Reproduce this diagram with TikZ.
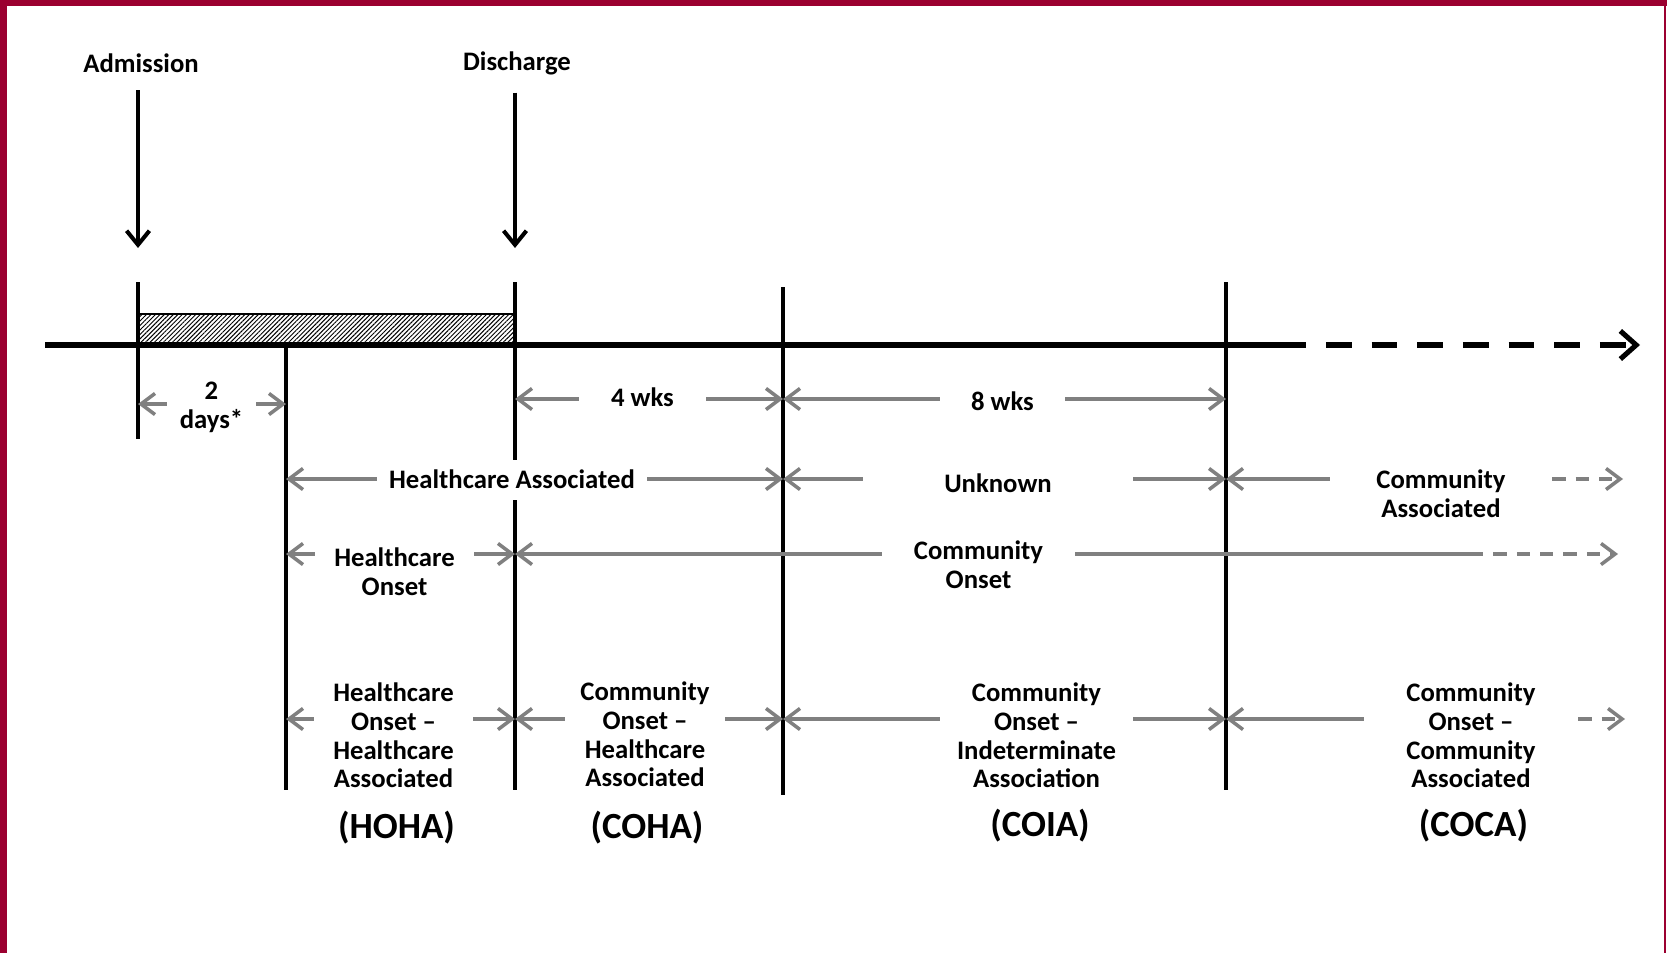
\documentclass[tikz,border=0pt]{standalone}
\usepackage{fontspec}
\setmainfont{Carlito}
\usetikzlibrary{arrows.meta,patterns.meta,positioning}
\definecolor{frame}{RGB}{155,0,48}
\definecolor{tick}{RGB}{128,128,128}

\begin{document}
\begin{tikzpicture}[x=0.02cm,y=-0.02cm,
   lbl/.style={font=\bfseries\fontsize{15.2}{16.3}\selectfont,align=center,inner sep=0pt},
   abbr/.style={font=\bfseries\fontsize{21}{24}\selectfont,inner sep=0pt},
   vline/.style={line width=2.3pt},
   ga/.style={draw=tick,line width=2pt,-{Straight Barb[length=8pt,width=12pt]}},
   gdash/.style={ga,dash pattern=on 7.6pt off 5.7pt},
   ba/.style={line width=2.3pt,-{Straight Barb[length=8pt,width=13pt]}}]
   \useasboundingbox (0,0) rectangle (1667,953);
   \fill[frame] (0,0) rectangle (7,953);
   \fill[frame] (0,0) rectangle (1667,6);
   \fill[frame] (1664,0) rectangle (1666,953);

   \draw[line width=0.8pt,pattern={Lines[angle=45,distance=1.8pt,line width=0.55pt]}] (138,314) rectangle (515,345);
   \draw[line width=2.9pt] (45,345) -- (1306,345);
   \draw[line width=2.9pt,dash pattern=on 14.7pt off 11.3pt,dash phase=14.7pt,
         -{Straight Barb[length=9pt,width=16pt]}] (1306,345) -- (1640,345);

   \draw[vline] (138,282) -- (138,439);
   \draw[vline] (286,345) -- (286,790);
   \draw[vline] (515,282) -- (515,460) (515,500) -- (515,790);
   \draw[vline] (783,287) -- (783,795);
   \draw[vline] (1226,282) -- (1226,790);

   \node[lbl] (adm) at (141,63) {Admission};
   \node[lbl] (dis) at (517,63) {Discharge};
   \coordinate (adm-tip) at (138,248);
   \coordinate (dis-tip) at (515,248);
   \draw[ba,shorten <=10pt] (adm.south -| adm-tip) -- (adm-tip);
   \draw[ba,shorten <=10pt] (dis.south -| dis-tip) -- (dis-tip);

   \coordinate (A-d) at (138,404);
   \coordinate (B-d) at (286,404);
   \coordinate (C-w) at (515,399);
   \coordinate (D-w) at (783,399);
   \coordinate (E-w) at (1226,399);
   \node[lbl,minimum width=1.78cm] (days) at (211.5,407.5) {2\\days*};
   \node[lbl,minimum width=2.54cm] (wk4) at (642.5,397) {4 wks};
   \node[lbl,minimum width=2.5cm] (wk8) at (1002.5,401) {8 wks};
   \draw[ga] (days.west |- A-d) -- (A-d);
   \draw[ga] (days.east |- B-d) -- (B-d);
   \draw[ga] (wk4.west |- C-w) -- (C-w);
   \draw[ga] (wk4.east |- D-w) -- (D-w);
   \draw[ga] (wk8.west |- D-w) -- (D-w);
   \draw[ga] (wk8.east |- E-w) -- (E-w);

   \coordinate (B-h) at (286,479);
   \coordinate (D-h) at (783,479);
   \coordinate (E-h) at (1226,479);
   \coordinate (ca-end) at (1623,479);
   \node[lbl,minimum width=5.4cm] (ha) at (512,479) {Healthcare Associated};
   \node[lbl,minimum width=5.4cm] (unk) at (998,483.7) {Unknown};
   \node[lbl,minimum width=4.44cm] (ca) at (1441,494) {Community\\Associated};
   \draw[ga] (ha.west |- B-h) -- (B-h);
   \draw[ga] (ha.east |- D-h) -- (D-h);
   \draw[ga] (unk.west |- D-h) -- (D-h);
   \draw[ga] (unk.east |- E-h) -- (E-h);
   \draw[ga] (ca.west |- E-h) -- (E-h);
   \draw[gdash] (ca.east |- E-h) -- (ca-end);

   \coordinate (B-o) at (286,554);
   \coordinate (C-o) at (515,554);
   \coordinate (co-dash) at (1470,554);
   \coordinate (co-end) at (1618,554);
   \node[lbl,minimum width=3.18cm] (ho) at (394.5,571.5) {Healthcare\\Onset};
   \node[lbl,minimum width=3.86cm] (co) at (978.5,565) {Community\\Onset};
   \draw[ga] (ho.west |- B-o) -- (B-o);
   \draw[ga] (ho.east |- C-o) -- (C-o);
   \draw[ga] (co.west |- C-o) -- (C-o);
   \draw[draw=tick,line width=2pt] (co.east |- C-o) -- (co-dash);
   \draw[gdash] (co-dash) -- (co-end);

   \coordinate (B-c) at (286,719);
   \coordinate (C-c) at (515,719);
   \coordinate (D-c) at (783,719);
   \coordinate (E-c) at (1226,719);
   \coordinate (coca-end) at (1625,719);
   \node[lbl,minimum width=3.18cm] (hoha) at (393.5,735.5) {Healthcare\\Onset --\\Healthcare\\Associated};
   \node[lbl,minimum width=3.2cm] (coha) at (645,734.5) {Community\\Onset --\\Healthcare\\Associated};
   \node[lbl,minimum width=3.86cm] (coia) at (1036.5,735.5) {Community\\Onset --\\Indeterminate\\Association};
   \node[lbl,minimum width=4.28cm] (coca) at (1471,735.5) {Community\\Onset --\\Community\\Associated};
   \draw[ga] (hoha.west |- B-c) -- (B-c);
   \draw[ga] (hoha.east |- C-c) -- (C-c);
   \draw[ga] (coha.west |- C-c) -- (C-c);
   \draw[ga] (coha.east |- D-c) -- (D-c);
   \draw[ga] (coia.west |- D-c) -- (D-c);
   \draw[ga] (coia.east |- E-c) -- (E-c);
   \draw[ga] (coca.west |- E-c) -- (E-c);
   \draw[gdash] (coca.east |- E-c) -- (coca-end);

   \node[abbr] (hoha-ab) at (396.5,828) {(HOHA)};
   \node[abbr] (coha-ab) at (647,828) {(COHA)};
   \node[abbr] (coia-ab) at (1040,826) {(COIA)};
   \node[abbr] (coca-ab) at (1473.5,826) {(COCA)};
\end{tikzpicture}
\end{document}
